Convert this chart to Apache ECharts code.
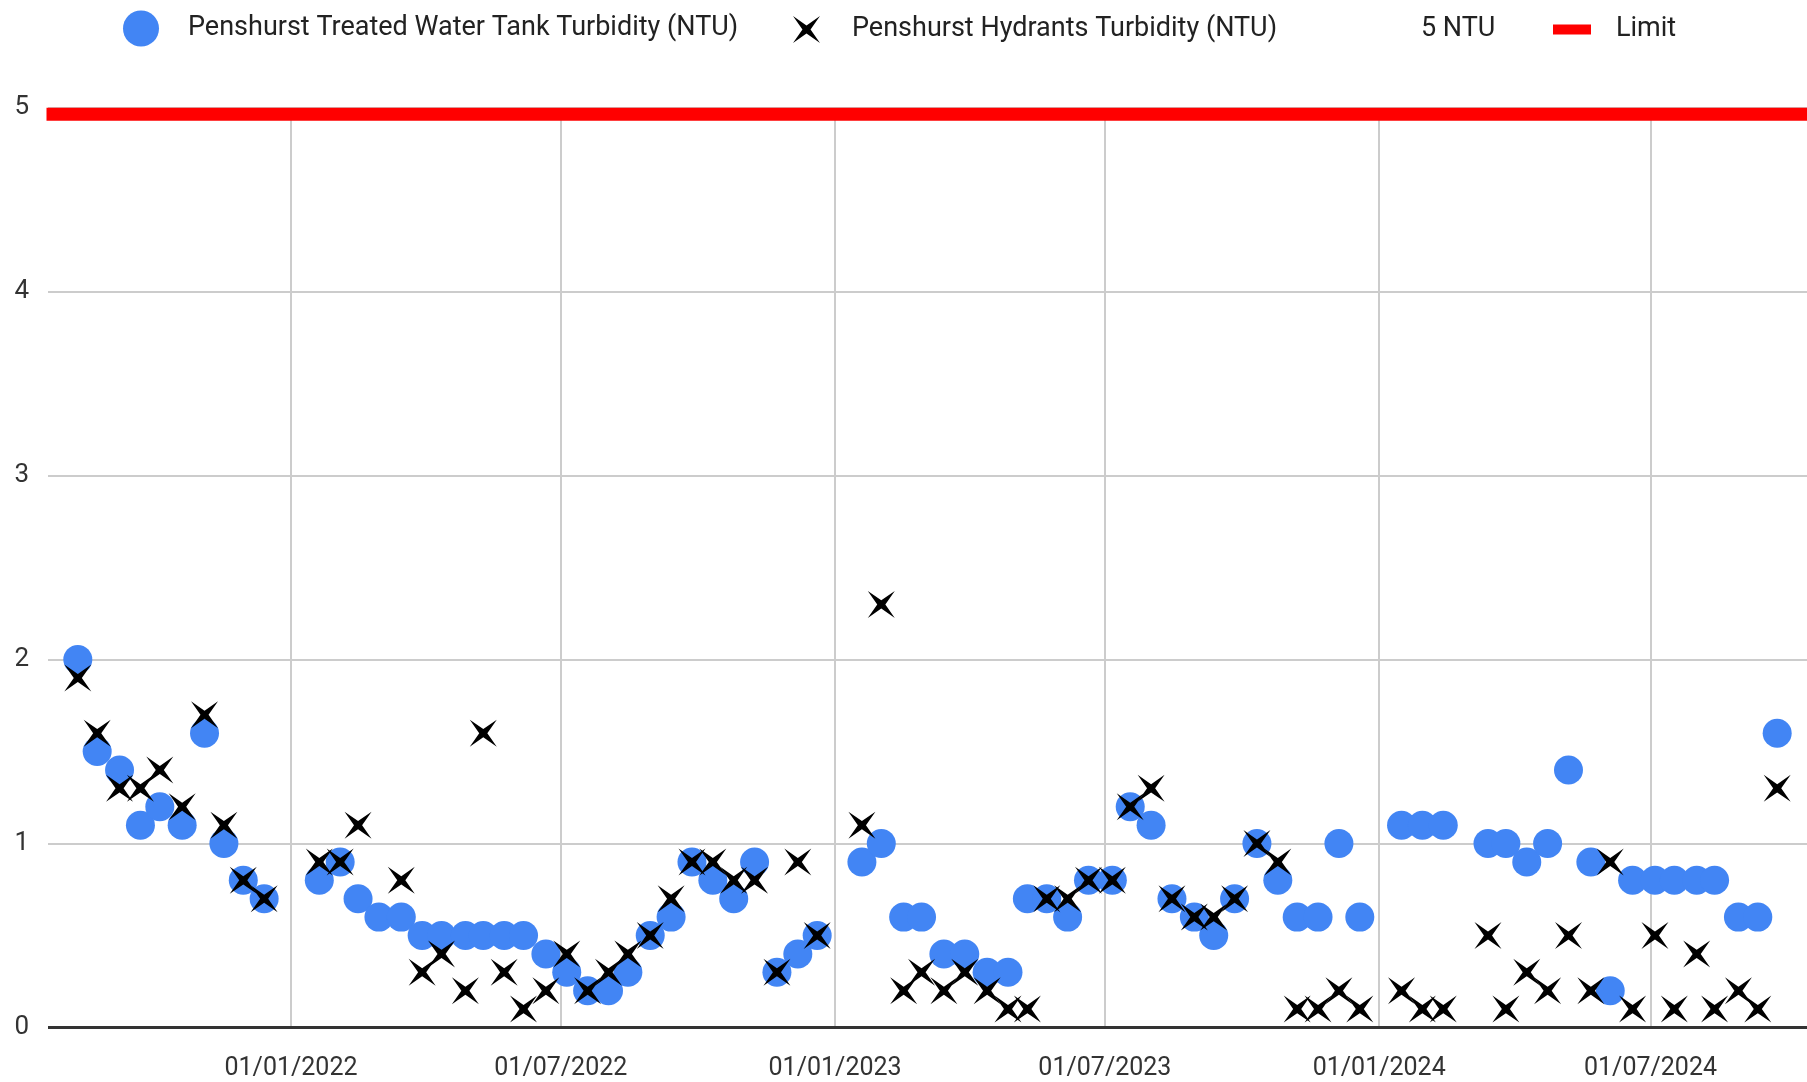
<!DOCTYPE html>
<html>
<head>
<meta charset="utf-8">
<title>Penshurst Turbidity</title>
<script src="https://cdn.jsdelivr.net/npm/echarts@6/dist/echarts.min.js"></script>
<style>
  html, body { margin: 0; padding: 0; background: #fff; }
  #chart { width: 1807px; height: 1082px; }
</style>
</head>
<body>
<div id="chart"></div>
<script>
// sample dates (fortnightly) and readings
const sampleDates = [
  '2021-08-11', '2021-08-24', '2021-09-08', '2021-09-22', '2021-10-05', '2021-10-20', '2021-11-04', '2021-11-17', '2021-11-30', '2021-12-14',
  '2022-01-20', '2022-02-03', '2022-02-15', '2022-03-01', '2022-03-16', '2022-03-30', '2022-04-12', '2022-04-28', '2022-05-10', '2022-05-24',
  '2022-06-06', '2022-06-21', '2022-07-05', '2022-07-19', '2022-08-02', '2022-08-15', '2022-08-30', '2022-09-13', '2022-09-27', '2022-10-11',
  '2022-10-25', '2022-11-08', '2022-11-23', '2022-12-07', '2022-12-20',
  '2023-01-19', '2023-02-01', '2023-02-16', '2023-02-28', '2023-03-15', '2023-03-29', '2023-04-13', '2023-04-27', '2023-05-10', '2023-05-23',
  '2023-06-06', '2023-06-20', '2023-07-06', '2023-07-18', '2023-08-01', '2023-08-15', '2023-08-30', '2023-09-12', '2023-09-26', '2023-10-11',
  '2023-10-25', '2023-11-07', '2023-11-21', '2023-12-05', '2023-12-19',
  '2024-01-16', '2024-01-30', '2024-02-13', '2024-03-14', '2024-03-26', '2024-04-09', '2024-04-23', '2024-05-07', '2024-05-22', '2024-06-04',
  '2024-06-19', '2024-07-04', '2024-07-17', '2024-08-01', '2024-08-13', '2024-08-29', '2024-09-11', '2024-09-24'
];
const tankTurbidity = [
  2.0, 1.5, 1.4, 1.1, 1.2, 1.1, 1.6, 1.0, 0.8, 0.7,
  0.8, 0.9, 0.7, 0.6, 0.6, 0.5, 0.5, 0.5, 0.5, 0.5,
  0.5, 0.4, 0.3, 0.2, 0.2, 0.3, 0.5, 0.6, 0.9, 0.8,
  0.7, 0.9, 0.3, 0.4, 0.5,
  0.9, 1.0, 0.6, 0.6, 0.4, 0.4, 0.3, 0.3, 0.7, 0.7,
  0.6, 0.8, 0.8, 1.2, 1.1, 0.7, 0.6, 0.5, 0.7, 1.0,
  0.8, 0.6, 0.6, 1.0, 0.6,
  1.1, 1.1, 1.1, 1.0, 1.0, 0.9, 1.0, 1.4, 0.9, 0.2,
  0.8, 0.8, 0.8, 0.8, 0.8, 0.6, 0.6, 1.6
];
const hydrantTurbidity = [
  1.9, 1.6, 1.3, 1.3, 1.4, 1.2, 1.7, 1.1, 0.8, 0.7,
  0.9, 0.9, 1.1, null, 0.8, 0.3, 0.4, 0.2, 1.6, 0.3,
  0.1, 0.2, 0.4, 0.2, 0.3, 0.4, 0.5, 0.7, 0.9, 0.9,
  0.8, 0.8, 0.3, 0.9, 0.5,
  1.1, 2.3, 0.2, 0.3, 0.2, 0.3, 0.2, 0.1, 0.1, 0.7,
  0.7, 0.8, 0.8, 1.2, 1.3, 0.7, 0.6, 0.6, 0.7, 1.0,
  0.9, 0.1, 0.1, 0.2, 0.1,
  0.2, 0.1, 0.1, 0.5, 0.1, 0.3, 0.2, 0.5, 0.2, 0.9,
  0.1, 0.5, 0.1, 0.4, 0.1, 0.2, 0.1, 1.3
];
const limitValue = 5;
const xStart = '2021-07-22';
const xEnd = '2024-10-14';
const xTicks = ['2022-01-01', '2022-07-01', '2023-01-01', '2023-07-01', '2024-01-01', '2024-07-01'];
const yTicks = [0, 1, 2, 3, 4, 5];

const ts = s => {
  const p = s.split('-').map(Number);
  return new Date(p[0], p[1] - 1, p[2]).getTime();
};
const pad = n => (n < 10 ? '0' : '') + n;
const starPath = 'path://M0,0L50,35L100,0L65,50L100,100L50,65L0,100L35,50Z';
const blue = '#4285F4';
const font = 'Roboto';

const tankData = sampleDates.map((d, i) => [ts(d), tankTurbidity[i]]);
const hydrantData = sampleDates.map((d, i) => [ts(d), hydrantTurbidity[i]]).filter(p => p[1] != null);

const chart = echarts.init(document.getElementById('chart'));
const legendText = { fontFamily: font, fontSize: 27, lineHeight: 30, color: '#222' };

chart.setOption({
  animation: false,
  backgroundColor: '#fff',
  textStyle: { fontFamily: font },
  legend: [
    { selectedMode: false, padding: 0, left: 123, top: 10.5, itemWidth: 36, itemHeight: 36,
      textStyle: { ...legendText, padding: [0, 0, 0, 24] },
      data: [{ name: 'Penshurst Treated Water Tank Turbidity (NTU)', icon: 'circle' }] },
    { selectedMode: false, padding: 0, left: 793, top: 14.5, itemWidth: 27, itemHeight: 27,
      textStyle: { ...legendText, padding: [0, 0, 0, 27] },
      data: [{ name: 'Penshurst Hydrants Turbidity (NTU)', icon: starPath }] },
    { selectedMode: false, padding: 0, left: 1406, top: 14.5, itemWidth: 10, itemHeight: 10,
      textStyle: { ...legendText },
      data: [{ name: '5 NTU', icon: 'rect' }] },
    { selectedMode: false, padding: 0, left: 1553, top: 14.5, itemWidth: 38, itemHeight: 10,
      textStyle: { ...legendText, padding: [0, 0, 0, 20] },
      data: [{ name: 'Limit', icon: 'rect' }] }
  ],
  grid: { left: 48, right: 0, top: 107.7, bottom: 54.5, containLabel: false },
  xAxis: {
    type: 'value',
    min: ts(xStart),
    max: ts(xEnd),
    axisLine: { show: false },
    axisTick: { show: false, customValues: xTicks.map(ts) },
    axisLabel: {
      customValues: xTicks.map(ts),
      fontFamily: font, fontSize: 25, color: '#333', margin: 29,
      formatter: v => { const d = new Date(v); return pad(d.getDate()) + '/' + pad(d.getMonth() + 1) + '/' + d.getFullYear(); }
    },
    splitLine: { show: true, lineStyle: { color: '#cccccc', width: 2 } }
  },
  yAxis: {
    type: 'value',
    min: yTicks[0],
    max: yTicks[yTicks.length - 1],
    interval: 1,
    axisLine: { show: false },
    axisTick: { show: false },
    axisLabel: { fontFamily: font, fontSize: 26, color: '#333', margin: 19, padding: [4, 0, 0, 0] },
    splitLine: { show: true, lineStyle: { color: '#cccccc', width: 2 } }
  },
  series: [
    {
      name: 'Limit',
      type: 'custom',
      z: 1,
      itemStyle: { color: '#ff0000' },
      encode: { x: [0, 1], y: 2 },
      data: [[ts(xStart), ts(xEnd), limitValue]],
      renderItem: (params, api) => {
        const a = api.coord([api.value(0), api.value(2)]);
        const b = api.coord([api.value(1), api.value(2)]);
        return { type: 'rect', shape: { x: a[0] - 1.5, y: a[1], width: b[0] - a[0] + 1.5, height: 13 },
          style: { fill: '#ff0000' } };
      }
    },
    {
      name: 'Penshurst Treated Water Tank Turbidity (NTU)',
      type: 'scatter',
      z: 3,
      symbol: 'circle',
      symbolSize: 29,
      itemStyle: { color: blue, opacity: 1 },
      emphasis: { disabled: true },
      data: tankData
    },
    {
      name: 'Penshurst Hydrants Turbidity (NTU)',
      type: 'scatter',
      z: 4,
      symbol: starPath,
      symbolSize: 27,
      itemStyle: { color: '#000', opacity: 1 },
      emphasis: { disabled: true },
      data: hydrantData
    },
    {
      name: '5 NTU',
      type: 'scatter',
      itemStyle: { color: 'rgba(0,0,0,0)' },
      data: []
    },
    {
      // zero baseline
      type: 'line',
      silent: true,
      symbol: 'none',
      z: 2,
      data: [],
      markLine: {
        silent: true, symbol: 'none', label: { show: false },
        lineStyle: { color: '#333', width: 3, type: 'solid' },
        data: [{ yAxis: yTicks[0] }]
      }
    }
  ]
});
</script>
</body>
</html>
